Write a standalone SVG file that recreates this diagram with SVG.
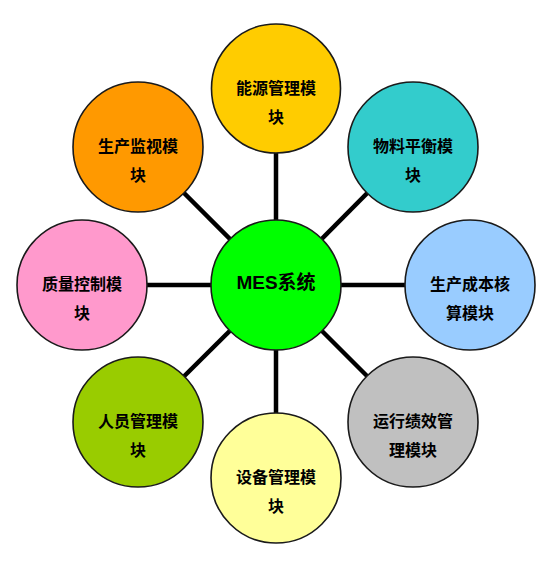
<svg xmlns="http://www.w3.org/2000/svg" width="555" height="567" viewBox="0 0 555 567">
<style>
.link{stroke:#000;stroke-width:4.5;fill:none}
.node circle{stroke:#1a1a1a;stroke-width:1.6}
.lbl{font-family:"Noto Sans CJK SC","Liberation Sans",sans-serif;font-size:16px;font-weight:bold;fill:#000;text-anchor:middle;dominant-baseline:central}
.main{font-family:"Liberation Sans","Noto Sans CJK SC",sans-serif;font-size:19px;font-weight:bold;fill:#000;text-anchor:middle;dominant-baseline:central}
</style>
<rect width="555" height="567" fill="#fff"/>
<g id="connectors">
<line class="link" x1="276" y1="285" x2="276" y2="88"/>
<line class="link" x1="276" y1="285" x2="413" y2="147"/>
<line class="link" x1="276" y1="285" x2="470" y2="285"/>
<line class="link" x1="276" y1="285" x2="413" y2="422"/>
<line class="link" x1="276" y1="285" x2="276" y2="478"/>
<line class="link" x1="276" y1="285" x2="138" y2="422"/>
<line class="link" x1="276" y1="285" x2="82" y2="285"/>
<line class="link" x1="276" y1="285" x2="138" y2="147"/>
</g>
<g id="n-energy" class="node"><circle cx="276" cy="88.5" r="64.5" fill="#FFCC00"/><text class="lbl" x="276" y="86.5">能源管理模</text><text class="lbl" x="276" y="115.5">块</text></g>
<g id="n-material" class="node"><circle cx="413" cy="147" r="65" fill="#33CCCC"/><text class="lbl" x="413" y="145">物料平衡模</text><text class="lbl" x="413" y="174">块</text></g>
<g id="n-cost" class="node"><circle cx="470" cy="285" r="65" fill="#99CCFF"/><text class="lbl" x="470" y="283">生产成本核</text><text class="lbl" x="470" y="312">算模块</text></g>
<g id="n-perf" class="node"><circle cx="413" cy="422" r="65" fill="#C0C0C0"/><text class="lbl" x="413" y="420">运行绩效管</text><text class="lbl" x="413" y="449">理模块</text></g>
<g id="n-equip" class="node"><circle cx="276" cy="478" r="65" fill="#FFFF99"/><text class="lbl" x="276" y="476">设备管理模</text><text class="lbl" x="276" y="505">块</text></g>
<g id="n-staff" class="node"><circle cx="138" cy="422" r="65" fill="#99CC00"/><text class="lbl" x="138" y="420">人员管理模</text><text class="lbl" x="138" y="449">块</text></g>
<g id="n-quality" class="node"><circle cx="82" cy="285" r="65" fill="#FF99CC"/><text class="lbl" x="82" y="283">质量控制模</text><text class="lbl" x="82" y="312">块</text></g>
<g id="n-monitor" class="node"><circle cx="138" cy="147" r="65" fill="#FF9900"/><text class="lbl" x="138" y="145">生产监视模</text><text class="lbl" x="138" y="174">块</text></g>
<g id="n-mes" class="node"><circle cx="276" cy="285" r="65" fill="#00FF00"/><text class="main" x="276" y="282">MES系统</text></g>
</svg>
